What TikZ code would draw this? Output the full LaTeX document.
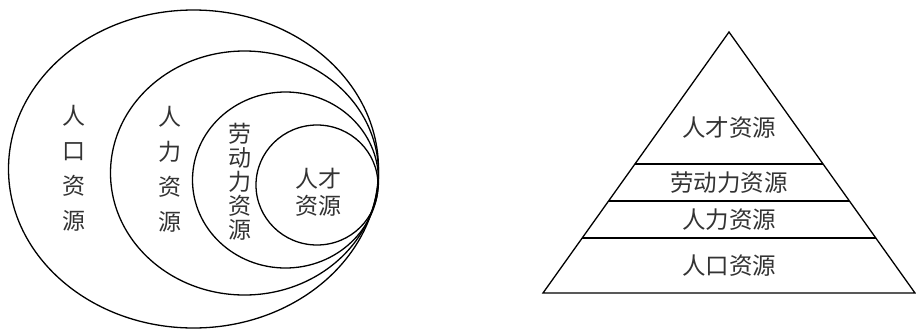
\documentclass[tikz,border=0pt]{standalone}
\usepackage{fontspec}
\newfontfamily\cjk{Noto Sans CJK SC}
\usepackage{tikz}
\usetikzlibrary{calc}

\begin{document}
\begin{tikzpicture}[
  x=1pt, y=-1pt,
  ring/.style={line width=1.3pt, draw=black},
  layer/.style={line width=1.3pt, draw=black},
  label/.style={font=\cjk\fontsize{23.5}{24}\selectfont, text=black!80, align=center, inner sep=0pt},
  tall/.style={label, font=\cjk\fontsize{23}{35}\selectfont}
]
\useasboundingbox (0,0) rectangle (916,330);

% nested ellipses
\draw[ring] (193.5,169) ellipse [x radius=185, y radius=159];
\draw[ring] (244.5,173) ellipse [x radius=134, y radius=122];
\draw[ring] (285.5,180) ellipse [x radius=93, y radius=88];
\draw[ring] (317,185) ellipse [x radius=61, y radius=60];

\node[tall] (pop) at (74,168) {人\\口\\资\\源};
\node[tall] (hum) at (170,169) {人\\力\\资\\源};
\node[label, font=\cjk\fontsize{23}{24}\selectfont] (lab) at (240,182) {劳\\动\\力\\资\\源};
\node[label, font=\cjk\fontsize{23}{27}\selectfont] (tal) at (318,192) {人才\\资源};

% pyramid
\coordinate (apex) at (729,32);
\coordinate (bl) at (543,293);
\coordinate (br) at (915,293);
\draw[layer, line join=miter] (apex) -- (bl) -- (br) -- cycle;
\foreach \f [count=\i] in {0.5057,0.6475,0.7893}{
  \draw[layer] ($(apex)!\f!(bl)$) -- ($(apex)!\f!(br)$);
}

\node[label] (ptal) at (729,128) {人才资源};
\node[label] (plab) at (729,183) {劳动力资源};
\node[label] (phum) at (729,220) {人力资源};
\node[label] (ppop) at (729,266) {人口资源};
\end{tikzpicture}
\end{document}
